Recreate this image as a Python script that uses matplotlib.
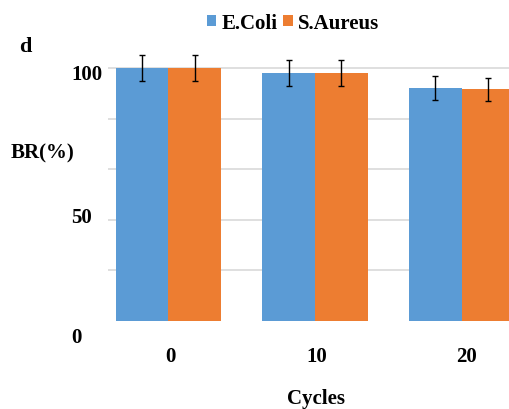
import numpy as np
import matplotlib
matplotlib.use("Agg")
import matplotlib.pyplot as plt

plt.rcParams['font.family'] = ['Liberation Serif', 'DejaVu Serif']
plt.rcParams['font.weight'] = 'bold'

# datos de la figura
ciclos = ['0', '10', '20']
ecoli = [100.0, 98.0, 92.1]
saureus = [100.0, 98.0, 91.6]
err_ecoli = [5.1, 5.0, 4.6]
err_saureus = [5.1, 5.0, 4.5]

azul = '#5B9BD5'
naranja = '#ED7D31'

fig = plt.figure(figsize=(5.1, 4.1), dpi=100)
ax = fig.add_axes([0.2118, 0.2151, 0.7882, 0.6873])

x = np.arange(len(ciclos))
ancho = 0.359

ax.bar(x - ancho / 2, ecoli, ancho, color=azul, label='E.Coli', zorder=2)
ax.bar(x + ancho / 2, saureus, ancho, color=naranja, label='S.Aureus', zorder=2)
ax.errorbar(x - ancho / 2, ecoli, yerr=err_ecoli, fmt='none', ecolor='black',
            elinewidth=1.0, capsize=2.3, capthick=1.0, zorder=3)
ax.errorbar(x + ancho / 2, saureus, yerr=err_saureus, fmt='none', ecolor='black',
            elinewidth=1.0, capsize=2.3, capthick=1.0, zorder=3)

ax.set_xlim(-0.411, 2.329)
ax.set_ylim(0, 111.5)

# lineas de cuadricula cada 20
for v in [20, 40, 60, 80, 100]:
    ax.axhline(v, color='#D9D9D9', lw=1.2, zorder=1)

for s in ax.spines.values():
    s.set_visible(False)
ax.set_yticks([])
ax.set_xticks([])

def px(xp, yp):
    return xp / 510, 1 - yp / 410

# etiquetas del eje y
for etq, yp in [('100', 75), ('50', 218), ('0', 338)]:
    fig.text(*px(71, yp), etq, fontsize=15, fontweight='bold', ha='left', va='center')

# etiquetas del eje x
for etq, xp in zip(ciclos, [170, 316.7, 467]):
    fig.text(*px(xp, 357.5), etq, fontsize=15, fontweight='bold', ha='center', va='center')

fig.text(*px(315.5, 399), 'Cycles', fontsize=15, fontweight='bold', ha='center', va='center')
fig.text(*px(11, 153), 'BR(%)', fontsize=15, fontweight='bold', ha='left', va='center')
fig.text(*px(25.5, 47), 'd', fontsize=16, fontweight='bold', ha='center', va='center')

fig.legend(loc='center', bbox_to_anchor=px(293, 24), ncol=2, frameon=False,
           fontsize=15, handlelength=0.45, handleheight=0.45, handletextpad=0.25,
           columnspacing=0.3, borderpad=0, borderaxespad=0)

fig.savefig('out.png', dpi=100)
